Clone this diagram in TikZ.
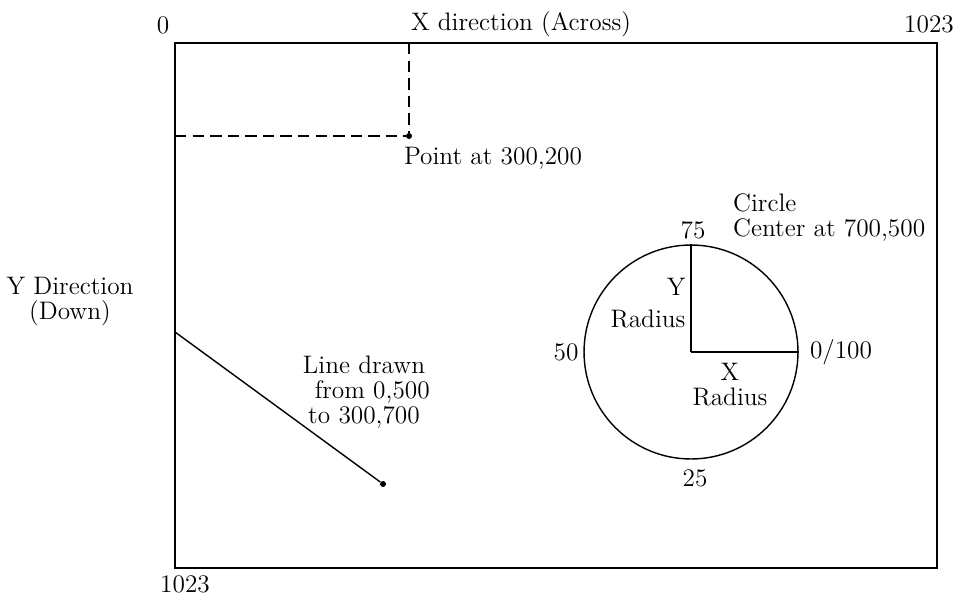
\documentclass[tikz,border=0pt]{standalone}
\usepackage{tikz}
\usetikzlibrary{positioning}

\begin{document}
\begin{tikzpicture}[x=0.02cm,y=-0.02cm,font=\fontsize{14.4}{14.2}\selectfont,
  every node/.style={inner sep=1pt},
  dot/.style={circle,fill,inner sep=0pt,minimum size=1.2mm},
  guide/.style={dash pattern=on 6.5pt off 3.5pt,line width=0.8pt}]
  \useasboundingbox (0,0) rectangle (962,598);

  % screen frame
  \coordinate (tl) at (175,43);
  \coordinate (br) at (937,568);
  \draw[line width=1.1pt] (tl) rectangle (br);

  \node (zero) at (163,25) {0};
  \node (xdir) at (521,24) {X direction (Across)};
  \node (xmax) at (929,24) {1023};
  \node (ymax) at (185,584) {1023};
  \node[align=center] (ydir) at (70,302) {Y Direction\\(Down)};

  % point at 300,200
  \coordinate (topx) at (409,43);
  \coordinate (lefty) at (175,136);
  \node[dot] (pt) at (409,136) {};
  \draw[guide] (topx) -- (pt);
  \draw[guide] (lefty) -- (pt);
  \node (ptlbl) at (493,158) {Point at 300,200};

  % line
  \coordinate (lstart) at (175,332);
  \node[dot] (lend) at (383,484) {};
  \draw[line width=0.8pt] (lstart) -- (lend);
  \node[align=center] (lnlbl) at (364,392) {Line drawn\\ \ \ from 0,500\\to 300,700};

  % circle
  \node[circle,draw,line width=0.8pt,minimum size=4.28cm,inner sep=0pt] (circ) at (691,352) {};
  \draw[line width=0.8pt] (circ.center) -- (circ.north);
  \draw[line width=0.8pt] (circ.center) -- (circ.east);
  \node[align=left,anchor=west] (circlbl) at (731,218) {Circle\\Center at 700,500};
  \node (n75) at (693,230) {75};
  \node (n50) at (566,352) {50};
  \node (n0) at (841,352) {0/100};
  \node (n25) at (695,478) {25};
  \node[align=right] (yrad) at (648,303) {Y\\[4pt]Radius};
  \node[align=center] (xrad) at (730,385) {X\\Radius};
\end{tikzpicture}
\end{document}
